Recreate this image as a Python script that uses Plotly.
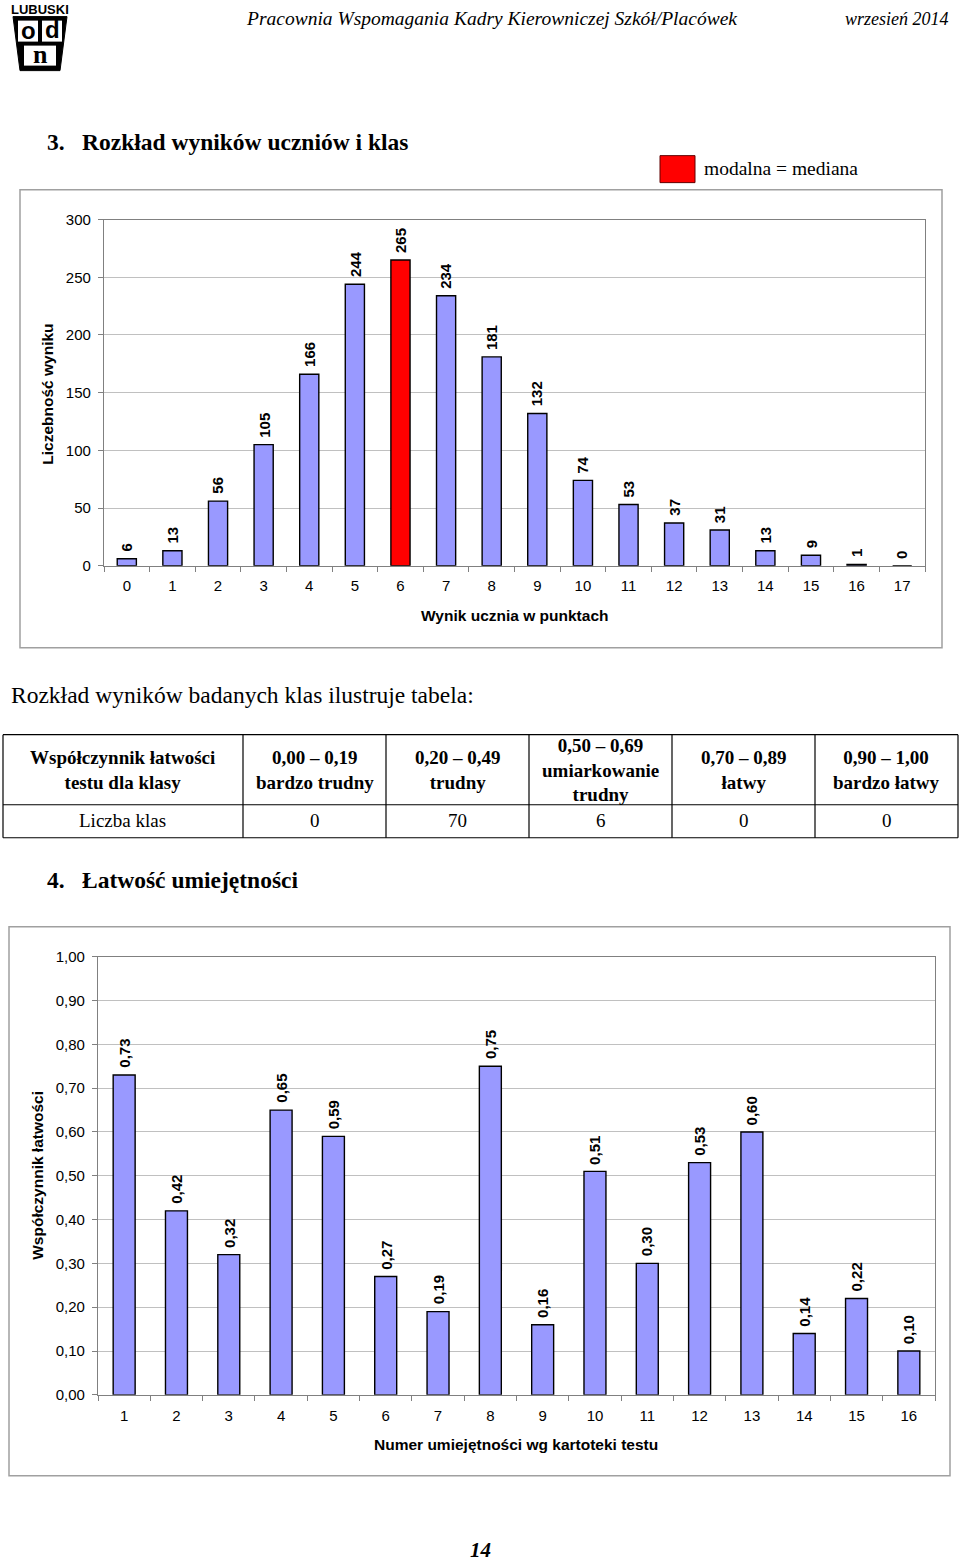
import plotly.graph_objects as go

# ---------------- data ----------------
scores = [str(i) for i in range(18)]
score_counts = [6, 13, 56, 105, 166, 244, 265, 234, 181, 132, 74, 53, 37, 31, 13, 9, 1, 0]
mode_score = "6"

skills = [str(i) for i in range(1, 17)]
ease = [0.73, 0.42, 0.32, 0.65, 0.59, 0.27, 0.19, 0.75, 0.16, 0.51, 0.30, 0.53, 0.60, 0.14, 0.22, 0.10]

table_header = ["Współczynnik łatwości<br>testu dla klasy", "0,00 – 0,19<br>bardzo trudny",
                "0,20 – 0,49<br>trudny", "0,50 – 0,69<br>umiarkowanie<br>trudny",
                "0,70 – 0,89<br>łatwy", "0,90 – 1,00<br>bardzo łatwy"]
table_row = ["Liczba klas", "0", "70", "6", "0", "0"]

W = 960
H = 1568
# vertical calibration of the rendered page (observed: page_y = 0.989 * (fig_y + 9.5))
SY = 0.989
OFF = 9.5
SANS = "Liberation Sans"
SERIF = "Liberation Serif"
BAR = "#9999FF"
RED = "#FF0000"
GRID = "#C0C0C0"
AXIS = "#808080"


def X(px):
    return px / W


def Y(py):
    # py: desired position on the 960x1560 page
    return 1 - (py / SY - OFF) / H


fig = go.Figure()

# ---------------- chart 1 ----------------
colors1 = [RED if s == mode_score else BAR for s in scores]
fig.add_trace(go.Bar(x=scores, y=score_counts, marker=dict(color=colors1, line=dict(color="#000000", width=1.4)),
                     xaxis="x", yaxis="y", showlegend=False, hoverinfo="x+y"))

# ---------------- chart 2 ----------------
fig.add_trace(go.Bar(x=skills, y=ease, marker=dict(color=BAR, line=dict(color="#000000", width=1.4)),
                     xaxis="x2", yaxis="y2", showlegend=False, hoverinfo="x+y"))

annotations = []
shapes = []

# bar value labels (category index used as x position)
for i, v in enumerate(score_counts):
    annotations.append(dict(x=i, y=v, xref="x", yref="y", text=str(v), textangle=-90, showarrow=False,
                            xanchor="center", yanchor="bottom", yshift=5,
                            font=dict(family=SANS, size=15, color="black", weight="bold")))
for i, v in enumerate(ease):
    annotations.append(dict(x=i, y=v, xref="x2", yref="y2", text=f"{v:.2f}".replace(".", ","), textangle=-90,
                            showarrow=False, xanchor="center", yanchor="bottom", yshift=5,
                            font=dict(family=SANS, size=15, color="black", weight="bold")))


def txt(x, y, text, size, family=SERIF, xanchor="left", angle=0, bold=False, color="black"):
    annotations.append(dict(x=X(x), y=Y(y), xref="paper", yref="paper", text=text, showarrow=False,
                            xanchor=xanchor, yanchor="middle", textangle=angle,
                            font=dict(family=family, size=size, color=color,
                                      weight="bold" if bold else "normal")))


# axis titles
txt(514, 616, "Wynik ucznia w punktach", 15.5, SANS, "center", bold=True)
txt(48, 395, "Liczebność wyniku", 15.5, SANS, "center", angle=-90, bold=True)
txt(516, 1445, "Numer umiejętności wg kartoteki testu", 15.5, SANS, "center", bold=True)
txt(38, 1176, "Współczynnik łatwości", 15.5, SANS, "center", angle=-90, bold=True)

# page header
txt(492, 19, "<i>Pracownia Wspomagania Kadry Kierowniczej Szkół/Placówek</i>", 19.5, SERIF, "center")
txt(951, 19, "<i>wrzesień 2014</i>", 18, SERIF, "right")

# logo
shapes.append(dict(type="path", path=f"M {X(13)},{Y(17)} L {X(67)},{Y(17)} L {X(60)},{Y(71)} L {X(20)},{Y(71)} Z",
                   xref="paper", yref="paper", fillcolor="black", line=dict(color="black", width=1)))
for x0, x1 in [(18, 38), (42, 62)]:
    shapes.append(dict(type="rect", x0=X(x0), x1=X(x1), y0=Y(42), y1=Y(21), xref="paper", yref="paper",
                       fillcolor="white", line=dict(color="white", width=0)))
shapes.append(dict(type="rect", x0=X(24), x1=X(56), y0=Y(66), y1=Y(46), xref="paper", yref="paper",
                   fillcolor="white", line=dict(color="white", width=0)))
txt(40, 10, "LUBUSKI", 13, SANS, "center", bold=True)
txt(28, 31, "o", 24, SANS, "center", bold=True)
txt(52, 30, "d", 24, SANS, "center", bold=True)
txt(40, 55, "n", 26, SERIF, "center", bold=True)

# section headings
txt(45, 142, "3.", 23.5, SERIF, "left", bold=True)
txt(80, 142, "Rozkład wyników uczniów i klas", 23.5, SERIF, "left", bold=True)
shapes.append(dict(type="rect", x0=X(660), x1=X(695), y0=Y(183), y1=Y(156), xref="paper", yref="paper",
                   fillcolor=RED, line=dict(color="#600000", width=1)))
txt(702, 169, "modalna = mediana", 19.5, SERIF, "left")

txt(9, 695, "Rozkład wyników badanych klas ilustruje tabela:", 23.5, SERIF, "left")

txt(45, 880, "4.", 23.5, SERIF, "left", bold=True)
txt(80, 880, "Łatwość umiejętności", 23.5, SERIF, "left", bold=True)

txt(480, 1550, "<i>14</i>", 21, SERIF, "center", bold=True)

# chart frames
for (x0, y0, x1, y1) in [(20, 190, 942, 648), (9, 927, 950, 1476)]:
    shapes.append(dict(type="rect", x0=X(x0), x1=X(x1), y0=Y(y1), y1=Y(y0), xref="paper", yref="paper",
                       fillcolor="rgba(0,0,0,0)", line=dict(color="#A0A0A0", width=1.5)))

# table
col_edges = [3, 243, 386, 529, 672, 815, 958]
row_edges = [735, 805, 838]
for ry in row_edges:
    shapes.append(dict(type="line", x0=X(col_edges[0]), x1=X(col_edges[-1]), y0=Y(ry), y1=Y(ry),
                       xref="paper", yref="paper", line=dict(color="black", width=1.2)))
for cx in col_edges:
    shapes.append(dict(type="line", x0=X(cx), x1=X(cx), y0=Y(row_edges[0]), y1=Y(row_edges[-1]),
                       xref="paper", yref="paper", line=dict(color="black", width=1.2)))
for i in range(6):
    cx = (col_edges[i] + col_edges[i + 1]) / 2
    txt(cx, 770, table_header[i], 19, SERIF, "center", bold=True)
    txt(cx, 821, table_row[i], 19, SERIF, "center")

axis_common = dict(showline=True, linecolor=AXIS, linewidth=1.2, mirror=True, ticks="outside", ticklen=5,
                   tickcolor=AXIS, tickfont=dict(family=SANS, size=15, color="black"), fixedrange=True)

fig.update_layout(
    width=W, height=H, autosize=False,
    margin=dict(l=0, r=0, t=0, b=0),
    paper_bgcolor="white", plot_bgcolor="white",
    separators=", ",
    bargap=0.58,
    xaxis=dict(domain=[X(104), X(925)], anchor="y", type="category", tickson="boundaries",
               showgrid=False, ticklabelstandoff=6, **axis_common),
    yaxis=dict(domain=[Y(566), Y(220)], anchor="x", range=[0, 300], dtick=50, showgrid=True,
               gridcolor=GRID, gridwidth=1, zeroline=False, ticklabelstandoff=4, **axis_common),
    xaxis2=dict(domain=[X(98), X(935)], anchor="y2", type="category", tickson="boundaries",
                showgrid=False, ticklabelstandoff=7, **axis_common),
    yaxis2=dict(domain=[Y(1395), Y(957)], anchor="x2", range=[0, 1], dtick=0.1, tickformat=".2f",
                showgrid=True, gridcolor=GRID, gridwidth=1, zeroline=False, ticklabelstandoff=4, **axis_common),
    annotations=annotations,
    shapes=shapes,
)

page_css = (
    "var h=document.documentElement,b=document.body;"
    "h.style.margin='0';h.style.padding='0';h.style.overflow='hidden';"
    "b.style.margin='0';b.style.padding='0';b.style.overflow='hidden';"
)

fig.write_html("out.html", config={"displayModeBar": False}, post_script=page_css)
